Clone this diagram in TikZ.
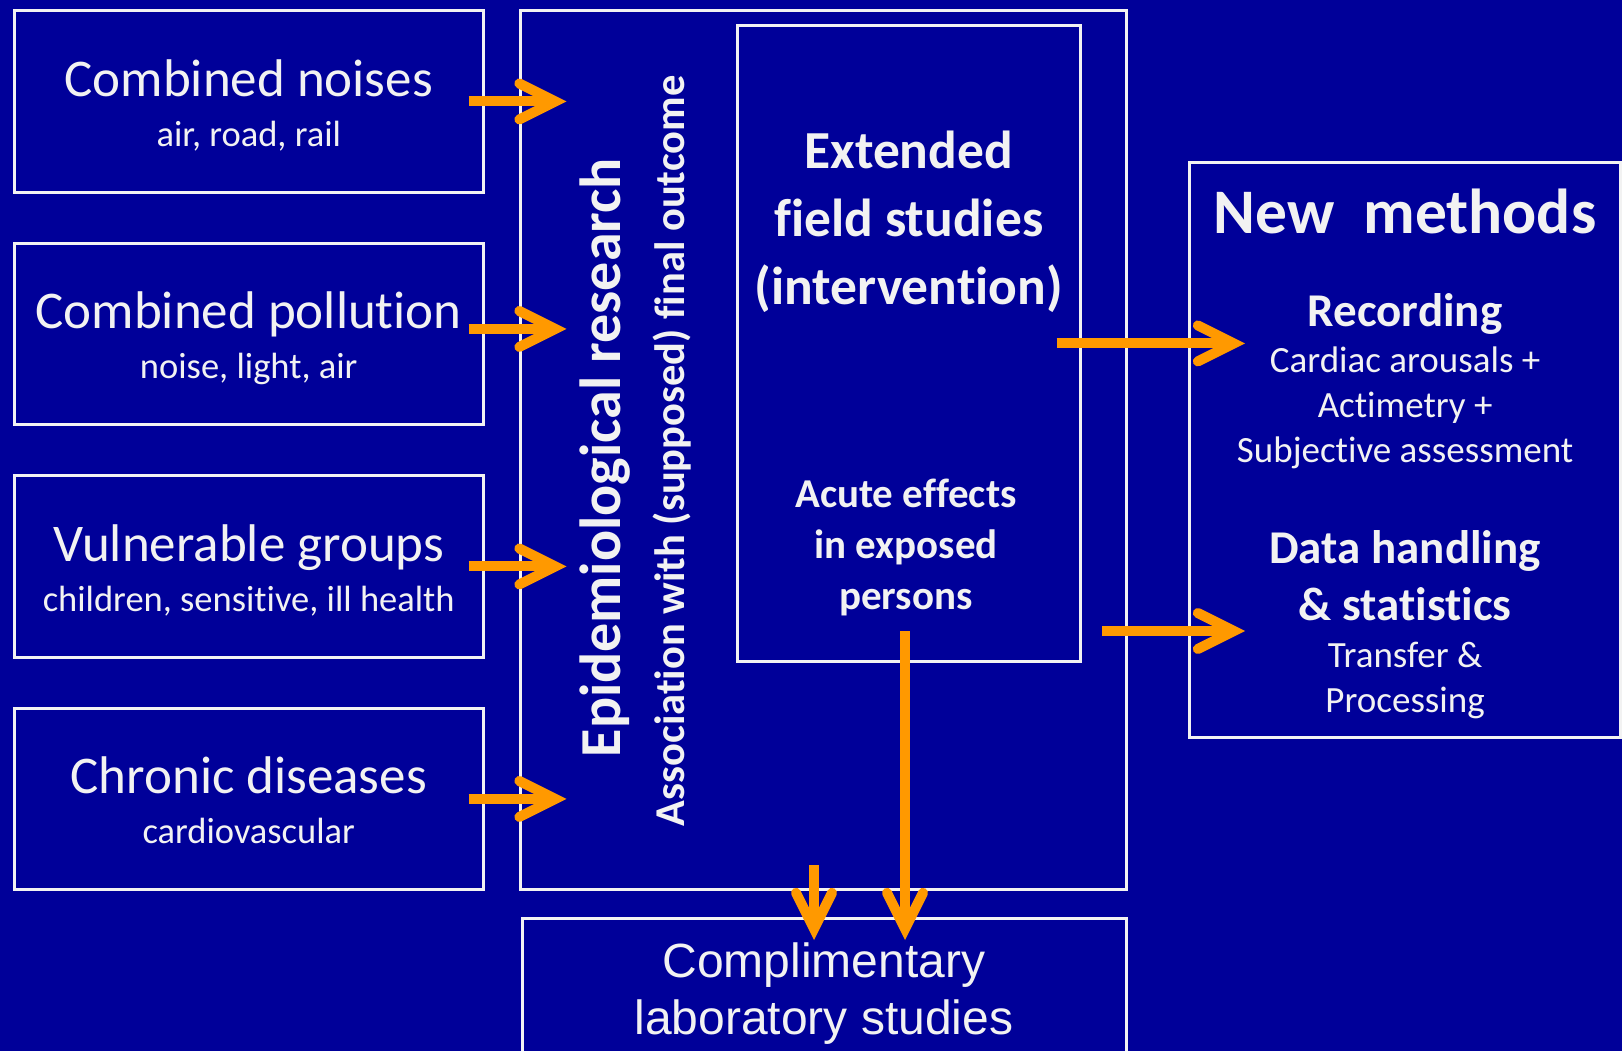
\documentclass[tikz,border=0pt]{standalone}
\usepackage{fontspec}
\setmainfont{Carlito}[RawFeature={-liga;-clig;-calt;-rlig}]
\newfontfamily\arialfont{Liberation Sans}
\usepackage{xcolor}
\usepackage{tikz}
\usetikzlibrary{positioning, arrows.meta}

\definecolor{slideblue}{RGB}{0,0,153}
\definecolor{arroworange}{RGB}{255,153,0}
\definecolor{chalk}{RGB}{242,242,242}
\newcommand{\fsz}[2]{\fontsize{#1}{#2}\selectfont}

\begin{document}
\begin{tikzpicture}[x=1pt,y=-1pt]
	\tikzstyle{box}=[draw=chalk,line width=3pt,inner sep=0pt,outer sep=0pt,anchor=north west]
	\tikzstyle{srcbox}=[box,minimum width=469.5pt,minimum height=181.5pt]
	\tikzstyle{txt}=[text=chalk,inner sep=0pt,anchor=base,align=center]
	\tikzstyle{flow}=[draw=arroworange,line width=10pt,-{Straight Barb[length=36pt,width=36pt,line cap=round,line join=miter]}]
	\fill[slideblue] (0,0) rectangle (1622,1051);
	\useasboundingbox (0,0) rectangle (1622,1051);
	% left column
	\node[srcbox] (noises) at (14,10.7) {};
	\node[srcbox,below=51pt of noises] (pollution) {};
	\node[srcbox,below=51pt of pollution] (groups) {};
	\node[srcbox,below=51pt of groups] (chronic) {};
	\node[txt,font=\fsz{53}{64}] (noisesT) at ([yshift=-85.5pt]noises.north) {Combined noises};
	\node[txt,font=\fsz{36.5}{44}] (noisesS) at ([yshift=-135.5pt]noises.north) {air, road, rail};
	\node[txt,font=\fsz{53}{64}] (pollutionT) at ([yshift=-85.5pt]pollution.north) {Combined pollution};
	\node[txt,font=\fsz{36.5}{44}] (pollutionS) at ([yshift=-135.5pt]pollution.north) {noise, light, air};
	\node[txt,font=\fsz{53}{64}] (groupsT) at ([yshift=-85.5pt]groups.north) {Vulnerable groups};
	\node[txt,font=\fsz{36.5}{44}] (groupsS) at ([yshift=-135.5pt]groups.north) {children, sensitive, ill health};
	\node[txt,font=\fsz{53}{64}] (chronicT) at ([yshift=-85.5pt]chronic.north) {Chronic diseases};
	\node[txt,font=\fsz{36.5}{44}] (chronicS) at ([yshift=-135.5pt]chronic.north) {cardiovascular};
	% middle
	\node[box,minimum width=606pt,minimum height=879pt] (epi) at (520.5,10.5) {};
	\node[box,minimum width=342.5pt,minimum height=635pt] (field) at (737.5,26) {};
	\node[txt,rotate=90,font=\bfseries\fsz{58}{70}] (epiT) at (620,457.7) {Epidemiological research};
	\node[txt,rotate=90,font=\bfseries\fsz{42.5}{50}] (epiS) at (684,451) {Association with (supposed) final outcome};
	% multi-line texts sit on their last baseline
	\node[txt,font=\bfseries\fsz{53.5}{68}] (fieldT) at ([yshift=-278.6pt]field.north) {Extended\\field studies\\(intervention)};
	\node[txt,font=\bfseries\fsz{41}{51}] (acute) at (906,609) {Acute effects\\in exposed\\persons};
	% right
	\node[box,minimum width=431pt,minimum height=575pt] (methods) at (1189.6,162.4) {};
	\node[txt,font=\bfseries\fsz{63.5}{70}] (methodsT) at ([yshift=-71.4pt]methods.north) {New\ \ methods};
	\node[txt,font=\bfseries\fsz{47}{56}] (recording) at ([yshift=-163.6pt]methods.north) {Recording};
	\node[txt,font=\fsz{37}{45}] (recordingS) at ([yshift=-300pt]methods.north) {Cardiac arousals +\\Actimetry +\\Subjective assessment};
	\node[txt,font=\bfseries\fsz{47}{57}] (handling) at ([yshift=-458.3pt]methods.north) {Data handling\\\& statistics};
	\node[txt,font=\fsz{37}{45.5}] (handlingS) at ([yshift=-550.1pt]methods.north) {Transfer \&\\Processing};
	% bottom
	\node[box,minimum width=604pt,minimum height=150pt] (lab) at (522,918) {};
	\node[txt,font=\arialfont\fsz{48}{57}] (labT) at ([yshift=-116.5pt]lab.north) {Complimentary\\laboratory studies};
	% arrows
	\coordinate (toRec) at (1245,343.4);
	\coordinate (toData) at (1245,631);
	\coordinate (acuteOut) at (905,631);
	\coordinate (epiOut) at (814,865);
	\draw[flow] ([xshift=-15pt]noises.east) -- ([xshift=46pt]epi.west |- noises.east);
	\draw[flow] ([xshift=-15pt,yshift=5pt]pollution.east) -- ([xshift=46pt,yshift=5pt]epi.west |- pollution.east);
	\draw[flow] ([xshift=-15pt]groups.east) -- ([xshift=46pt]epi.west |- groups.east);
	\draw[flow] ([xshift=-15pt]chronic.east) -- ([xshift=46pt]epi.west |- chronic.east);
	\draw[flow] ([xshift=-23.5pt]field.east |- toRec) -- (toRec);
	\draw[flow] ([xshift=22pt]field.east |- toData) -- (toData);
	\draw[flow] (acuteOut) -- ([yshift=-22pt]lab.north -| acuteOut);
	\draw[flow] (epiOut) -- ([yshift=-22pt]lab.north -| epiOut);
\end{tikzpicture}
\end{document}
